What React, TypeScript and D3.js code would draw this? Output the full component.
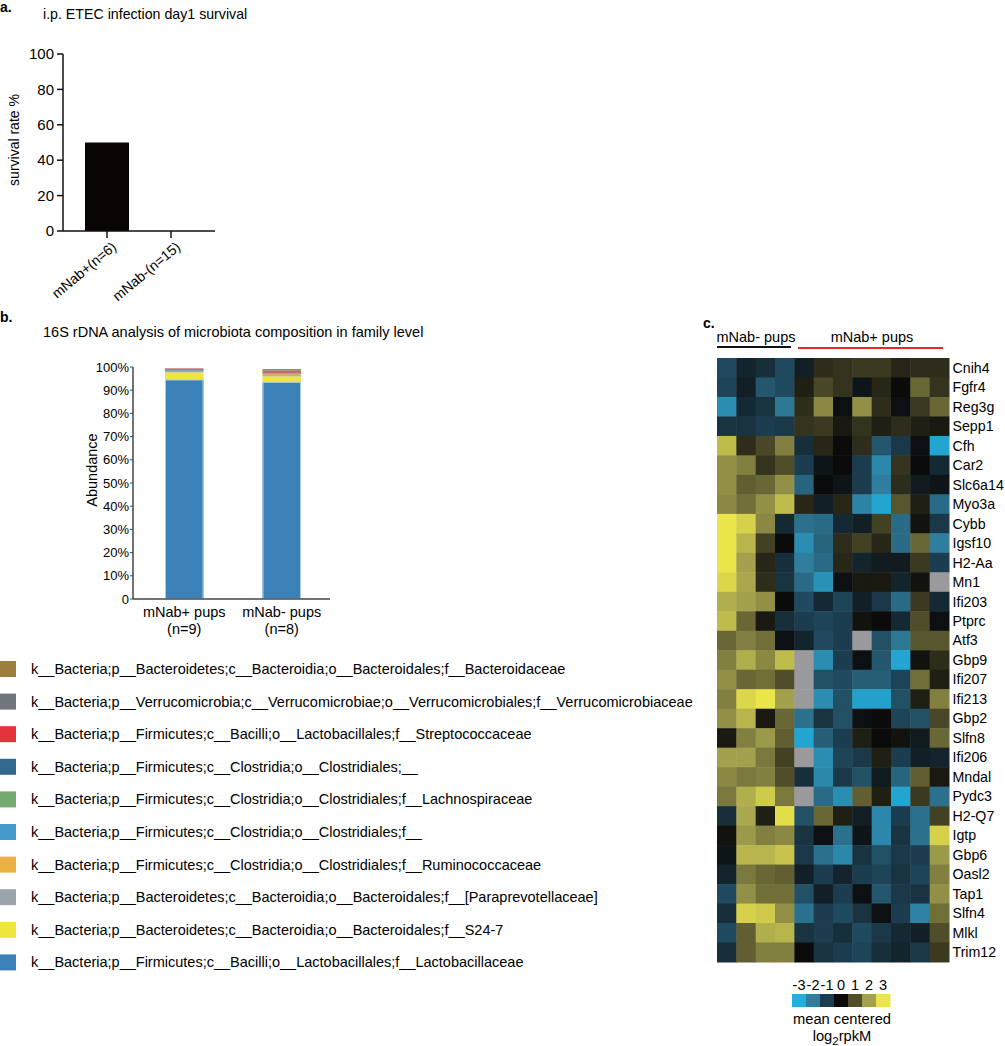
import React from "react";
import * as d3 from "d3";

// ---------- Panel a data ----------
const survivalGroups = ["mNab+(n=6)", "mNab-(n=15)"];
const survivalRates = [50, 0];
const survivalTicks = [0, 20, 40, 60, 80, 100];

// ---------- Panel b data ----------
const microGroups = ["mNab+ pups", "mNab- pups"];
const microGroupN = ["(n=9)", "(n=8)"];
// stack order bottom -> top
const taxaKeys = [
  "Lactobacillaceae",
  "S24-7",
  "Paraprevotellaceae",
  "Ruminococcaceae",
  "Clostridiales_f",
  "Lachnospiraceae",
  "Clostridiales_",
  "Streptococcaceae",
  "Verrucomicrobiaceae",
  "Bacteroidaceae",
];
const taxaLabels = [
  "k__Bacteria;p__Firmicutes;c__Bacilli;o__Lactobacillales;f__Lactobacillaceae",
  "k__Bacteria;p__Bacteroidetes;c__Bacteroidia;o__Bacteroidales;f__S24-7",
  "k__Bacteria;p__Bacteroidetes;c__Bacteroidia;o__Bacteroidales;f__[Paraprevotellaceae]",
  "k__Bacteria;p__Firmicutes;c__Clostridia;o__Clostridiales;f__Ruminococcaceae",
  "k__Bacteria;p__Firmicutes;c__Clostridia;o__Clostridiales;f__",
  "k__Bacteria;p__Firmicutes;c__Clostridia;o__Clostridiales;f__Lachnospiraceae",
  "k__Bacteria;p__Firmicutes;c__Clostridia;o__Clostridiales;__",
  "k__Bacteria;p__Firmicutes;c__Bacilli;o__Lactobacillales;f__Streptococcaceae",
  "k__Bacteria;p__Verrucomicrobia;c__Verrucomicrobiae;o__Verrucomicrobiales;f__Verrucomicrobiaceae",
  "k__Bacteria;p__Bacteroidetes;c__Bacteroidia;o__Bacteroidales;f__Bacteroidaceae",
];
const taxaColors = [
  "#3b80b7",
  "#ede63d",
  "#9da3aa",
  "#ebb044",
  "#4599cd",
  "#74a972",
  "#33688f",
  "#e2323b",
  "#6f767e",
  "#9c7f3e",
];
const abundanceMNabPos = [94.4, 3.3, 0.2, 0.1, 0.5, 0.1, 0.3, 0.4, 0.05, 0.1];
const abundanceMNabNeg = [93.4, 2.6, 0.5, 0.4, 0.3, 0.1, 0.3, 0.3, 0.6, 0.6];
const abundanceTicks = [0, 10, 20, 30, 40, 50, 60, 70, 80, 90, 100];

// ---------- Panel c data ----------
const sampleIds = ["n1", "n2", "n3", "n4", "p1", "p2", "p3", "p4", "p5", "p6", "p7", "p8"];
const genes = [
  "Cnih4", "Fgfr4", "Reg3g", "Sepp1", "Cfh", "Car2", "Slc6a14", "Myo3a", "Cybb", "Igsf10",
  "H2-Aa", "Mn1", "Ifi203", "Ptprc", "Atf3", "Gbp9", "Ifi207", "Ifi213", "Gbp2", "Slfn8",
  "Ifi206", "Mndal", "Pydc3", "H2-Q7", "Igtp", "Gbp6", "Oasl2", "Tap1", "Slfn4", "Mlkl", "Trim12",
];
const heatValues: (number | null)[][] = [
  [-1.2, -0.5, -0.7, -1.2, -0.4, 0.5, 0.6, 0.7, 0.7, 0.4, 0.5, 0.5],
  [-1.1, -0.4, -1.4, -1.2, 0.3, 0.9, 0.6, -0.2, 0.4, 0, 1.3, 0.6],
  [-2.3, -0.6, -0.8, -1.9, 0.5, 1.7, -0.1, 1.8, 0.5, -0.1, 0.7, 1.3],
  [-0.8, -0.8, -1.0, -0.9, 0.6, 0.7, 0.2, 0.6, 0.3, 0.5, 0.3, 0.2],
  [2.4, 0.5, 0.9, 1.6, -0.7, 0.4, 0, 0.5, -1.4, -0.9, -0.1, -2.8],
  [1.8, 1.6, 0.6, 1.0, -1.0, -0.2, 0, -1.0, -2.2, 0.6, 0, -0.6],
  [1.8, 1.2, 1.3, 1.8, -1.6, 0, -0.2, -1.0, -2.0, 0.5, -0.3, -0.2],
  [1.7, 1.4, 1.8, 2.4, 0.4, -0.4, 0.4, -2.1, -2.8, 1.1, 0.3, -1.7],
  [3.0, 2.7, 1.7, -0.6, -1.8, -1.7, -0.6, -0.4, 0.8, -1.7, 0.1, -0.9],
  [3.0, 2.3, 0.8, 0, -2.3, -1.6, 0.5, 0.8, 0.4, -1.7, 1.3, -2.0],
  [3.0, 2.0, 0.4, -0.7, -2.0, -1.7, 0.4, -0.5, -0.3, -0.3, 0.7, -1.0],
  [2.8, 2.1, 0.5, -0.8, -1.7, -2.4, -0.1, 0.2, 0.2, -0.5, 0.1, null],
  [2.2, 2.0, 1.8, 0, -1.2, -0.6, -1.1, -0.4, -0.9, -1.7, 0.7, -0.6],
  [2.4, 1.3, 0.2, -0.7, -1.0, -1.1, -1.0, 0.1, 0, -0.6, 1.0, -0.1],
  [1.3, 1.6, 1.4, -0.1, -0.5, -1.2, -1.0, null, -1.3, -1.9, 1.1, 1.1],
  [1.6, 2.2, 1.7, 2.4, null, -2.3, -1.0, -0.1, -1.4, -2.8, 0.1, 0.5],
  [1.8, 1.3, 1.4, 1.0, null, -1.3, -1.2, -1.5, -1.5, -1.1, 1.4, 0.3],
  [1.6, 2.8, 3.0, 2.0, null, -2.3, -1.3, -2.7, -2.7, -1.3, 0.3, 1.6],
  [1.8, 2.3, 0.2, 1.3, -1.8, -0.8, -1.3, -0.1, 0, -1.1, -1.3, 0.9],
  [0.2, 1.6, 1.9, 1.2, -2.8, -1.5, -1.0, 0.3, 0, 0.1, -0.3, 1.3],
  [2.0, 2.0, 1.5, 0.8, null, -2.3, -1.1, -0.9, 0.3, -1.0, -0.4, -0.5],
  [1.7, 1.5, 1.6, 1.0, -0.7, -2.2, -0.9, -1.3, -0.3, -1.6, 1.2, 0.2],
  [1.5, 2.2, 2.6, 1.5, null, -1.7, -2.3, 1.2, 0.3, -2.8, 0.7, -1.8],
  [-0.7, 2.1, 0.3, 2.9, -1.3, 1.3, 0.3, -0.4, -2.2, -1.0, -1.8, 0.8],
  [0.1, 1.9, 1.6, 1.7, -0.8, -0.1, -1.8, -0.2, -2.2, -0.8, -1.8, 2.7],
  [-0.2, 2.3, 2.3, 2.5, -0.9, -1.8, -2.2, -0.8, -1.3, -0.9, -1.0, 1.9],
  [-0.5, 1.5, 1.3, 1.2, -0.4, -1.0, -0.5, -1.0, -1.1, -0.8, -1.1, 1.6],
  [-1.2, 1.8, 1.4, 1.4, -1.3, -0.4, -1.0, -0.1, -1.4, -0.9, -0.8, 1.8],
  [-0.7, 2.7, 2.6, 1.8, -1.8, -1.0, -1.2, -0.8, -0.1, -1.0, -2.1, 1.4],
  [-1.2, 1.2, 2.2, 2.3, -0.8, -1.0, -0.7, -1.2, -0.9, -0.6, -0.4, 1.0],
  [-0.7, 1.2, 1.6, 1.6, 0, -0.8, -1.0, -1.1, -0.7, -0.5, -0.9, 0.7],
];
const colorStops = [-3, -2, -1, 0, 1, 2, 3];
const colorStopColors = ["#1fb0de", "#2f7e9d", "#1c3d4f", "#0b0b0b", "#504e2a", "#a3a14e", "#eae549"];
const groupLabels = ["mNab- pups", "mNab+ pups"];

const FONT = "'Liberation Sans', Arial, Helvetica, sans-serif";

function PanelA() {
  const y = d3.scaleLinear().domain([0, 100]).range([231, 54]);
  const x = d3
    .scaleBand<string>()
    .domain(survivalGroups)
    .range([75, 203])
    .paddingInner(0.3125)
    .paddingOuter(0.15625);
  return (
    <g>
      <text x={0} y={12} fontSize={14} fontWeight="bold">a.</text>
      <text x={43} y={19} fontSize={14.2}>i.p. ETEC infection day1 survival</text>
      {survivalGroups.map((g, i) => (
        <rect key={g} x={x(g)} y={y(survivalRates[i])} width={x.bandwidth()} height={y(0) - y(survivalRates[i])} fill="#0a0505" />
      ))}
      <line x1={63} x2={63} y1={y(100)} y2={y(0)} stroke="#111" strokeWidth={1.5} />
      <line x1={63} x2={215} y1={y(0)} y2={y(0)} stroke="#111" strokeWidth={1.5} />
      {survivalTicks.map((t) => (
        <g key={t}>
          <line x1={57} x2={63} y1={y(t)} y2={y(t)} stroke="#111" strokeWidth={1.5} />
          <text x={54} y={y(t)} dy="0.35em" textAnchor="end" fontSize={15}>{t}</text>
        </g>
      ))}
      {survivalGroups.map((g) => {
        const cx = (x(g) as number) + x.bandwidth() / 2;
        return (
          <g key={g}>
            <line x1={cx} x2={cx} y1={y(0)} y2={y(0) + 7} stroke="#111" strokeWidth={1.5} />
            <text transform={`translate(${cx + 4},${y(0) + 10}) rotate(-40)`} textAnchor="end" dy="0.7em" fontSize={14}>{g}</text>
          </g>
        );
      })}
      <text transform={`translate(19,140) rotate(-90)`} textAnchor="middle" fontSize={14}>survival rate %</text>
    </g>
  );
}

function PanelB() {
  const y = d3.scaleLinear().domain([0, 100]).range([599, 367]);
  const x = d3
    .scaleBand<string>()
    .domain(microGroups)
    .range([133, 333])
    .paddingInner(0.605)
    .paddingOuter(0.328);
  const rows = microGroups.map((g, gi) => {
    const vals = gi === 0 ? abundanceMNabPos : abundanceMNabNeg;
    const o: Record<string, any> = { group: g };
    taxaKeys.forEach((k, i) => (o[k] = vals[i]));
    return o;
  });
  const series = d3.stack().keys(taxaKeys)(rows as any);
  const legendOrder = taxaKeys.map((_, i) => i).reverse();
  return (
    <g>
      <text x={0} y={322} fontSize={14} fontWeight="bold">b.</text>
      <text x={43} y={337} fontSize={14.5}>16S rDNA analysis of microbiota composition in family level</text>
      {series.map((s, si) =>
        s.map((d, di) => (
          <rect
            key={`${si}-${di}`}
            x={x(microGroups[di])}
            y={y(d[1])}
            width={x.bandwidth()}
            height={Math.max(0, y(d[0]) - y(d[1]))}
            fill={taxaColors[si]}
          />
        ))
      )}
      {series[0].map((d, di) => (
        <rect
          key={`o-${di}`}
          x={(x(microGroups[di]) as number) + 0.5}
          y={y(d[1])}
          width={x.bandwidth() - 1}
          height={y(d[0]) - y(d[1]) - 0.5}
          fill="none"
          stroke="#a9cde8"
          strokeWidth={1}
        />
      ))}
      <line x1={133} x2={133} y1={y(100)} y2={y(0)} stroke="#444" strokeWidth={1.5} />
      <line x1={133} x2={330} y1={y(0)} y2={y(0)} stroke="#444" strokeWidth={1.5} />
      {abundanceTicks.map((t) => (
        <g key={t}>
          <line x1={130} x2={133} y1={y(t)} y2={y(t)} stroke="#444" strokeWidth={1} />
          <text x={129} y={y(t)} dy="0.35em" textAnchor="end" fontSize={13}>{t === 0 ? "0" : `${t}%`}</text>
        </g>
      ))}
      <text transform={`translate(97,470) rotate(-90)`} textAnchor="middle" fontSize={14.5}>Abundance</text>
      {microGroups.map((g, i) => {
        const cx = (x(g) as number) + x.bandwidth() / 2;
        return (
          <g key={g}>
            <text x={cx} y={617} textAnchor="middle" fontSize={14.5}>{g}</text>
            <text x={cx} y={634} textAnchor="middle" fontSize={14.5}>{microGroupN[i]}</text>
          </g>
        );
      })}
      {legendOrder.map((ti, li) => {
        const cy = 669 + li * 32.6;
        return (
          <g key={ti}>
            <rect x={0} y={cy - 8} width={16} height={16} fill={taxaColors[ti]} />
            <text x={31} y={cy} dy="0.35em" fontSize={14.5}>{taxaLabels[ti]}</text>
          </g>
        );
      })}
    </g>
  );
}

function PanelC() {
  const x = d3.scaleBand<string>().domain(sampleIds).range([717, 949]);
  const y = d3.scaleBand<string>().domain(genes).range([358, 962]);
  const color = d3.scaleLinear<string>().domain(colorStops).range(colorStopColors).clamp(true);
  const cb = d3.scaleBand<number>().domain(colorStops).range([792, 890]);
  return (
    <g>
      <text x={703} y={328} fontSize={14} fontWeight="bold">c.</text>
      <text x={756} y={342} textAnchor="middle" fontSize={14.5}>{groupLabels[0]}</text>
      <line x1={717} x2={791} y1={347} y2={347} stroke="#111" strokeWidth={2} />
      <text x={872} y={342} textAnchor="middle" fontSize={14.5}>{groupLabels[1]}</text>
      <line x1={798} x2={943} y1={348} y2={348} stroke="#e5262b" strokeWidth={2} />
      {genes.map((g, gi) =>
        sampleIds.map((s, si) => {
          const v = heatValues[gi][si];
          return (
            <rect
              key={`${g}-${s}`}
              x={x(s)}
              y={y(g)}
              width={x.bandwidth() + 0.5}
              height={y.bandwidth() + 0.5}
              fill={v === null ? "#9a9a9c" : color(v)}
            />
          );
        })
      )}
      {genes.map((g) => (
        <text key={g} x={952.5} y={(y(g) as number) + y.bandwidth() / 2} dy="0.35em" fontSize={14.2}>{g}</text>
      ))}
      {colorStops.map((c) => (
        <g key={c}>
          <rect x={cb(c)} y={994} width={cb.bandwidth() + 0.5} height={13} fill={color(c)} />
          <text x={(cb(c) as number) + cb.bandwidth() / 2} y={990} textAnchor="middle" fontSize={14.5}>{c}</text>
        </g>
      ))}
      <text x={842} y={1024} textAnchor="middle" fontSize={14.7}>mean centered</text>
      <text x={842} y={1041} textAnchor="middle" fontSize={14.7}>
        log<tspan dy="4" fontSize={11.5}>2</tspan><tspan dy="-4">rpkM</tspan>
      </text>
    </g>
  );
}

export default function App() {
  return (
    <svg
      width={1005}
      height={1046}
      style={{ position: "absolute", left: 0, top: 0, background: "#fff" }}
      fontFamily={FONT}
    >
      <rect x={0} y={0} width={1005} height={1046} fill="#fff" />
      <PanelA />
      <PanelB />
      <PanelC />
    </svg>
  );
}
